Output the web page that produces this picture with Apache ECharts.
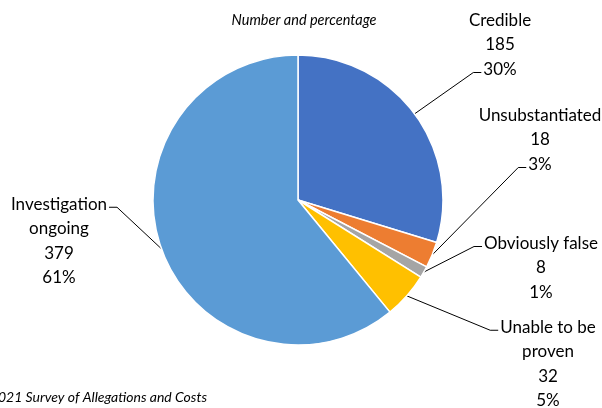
<!DOCTYPE html>
<html><head><meta charset="utf-8">
<script src="https://cdn.jsdelivr.net/npm/echarts@6/dist/echarts.min.js"></script>
<style>html,body{margin:0;padding:0;background:#fff}#c{width:602px;height:408px}</style>
</head><body><div id="c"></div>
<script>
var categories = ['Credible', 'Unsubstantiated', 'Obviously false', 'Unable to be\nproven', 'Investigation\nongoing'];
var values = [185, 18, 8, 32, 379];
var colors = ['#4472C4', '#ED7D31', '#A5A5A5', '#FFC000', '#5B9BD5'];
var titleText = 'Number and percentage';
var sourceText = '2021 Survey of Allegations and Costs';
// label block anchor positions and leader attachment (layout only)
var labelPos = [[500, 45], [540, 140], [541, 268], [548, 364], [59, 241]];
var attachLine = [2, 2, 0, 0, 0];

var FS = 17, LH = 24.5;
var font = 'Lato, "Liberation Sans", sans-serif';
var mctx = document.createElement('canvas').getContext('2d');
mctx.font = FS + 'px ' + font;

function labelLines(i) {
  var pct = Math.round(values[i] / values.reduce(function (a, b) { return a + b; }, 0) * 100);
  return (categories[i] + '\n' + values[i] + '\n' + pct + '%').split('\n');
}

var chart = echarts.init(document.getElementById('c'), null, {renderer: 'canvas'});
chart.setOption({
  animation: false,
  title: {text: titleText, left: 299, top: 8, textAlign: 'center',
    textStyle: {fontFamily: font, fontStyle: 'italic', fontWeight: 'normal', fontSize: 14.5, color: '#000'}},
  graphic: [{type: 'text', x: 207, y: 397, style: {text: sourceText, align: 'right', verticalAlign: 'middle',
    font: 'italic 14px ' + font, fill: '#000'}}],
  series: [{
    type: 'pie',
    center: [298, 200],
    radius: 145,
    startAngle: 90,
    clockwise: true,
    avoidLabelOverlap: false,
    itemStyle: {borderColor: '#fff', borderWidth: 1.5},
    label: {
      show: true, position: 'outside', fontFamily: font, fontSize: FS, lineHeight: LH, color: '#000',
      align: 'center',
      formatter: function (p) { return p.name + '\n' + p.value + '\n' + Math.round(p.percent) + '%'; }
    },
    labelLine: {show: true, length: 10, length2: 8, lineStyle: {color: '#000', width: 1}},
    labelLayout: function (p) {
      var i = p.dataIndex;
      var pos = labelPos[i];
      var res = {x: pos[0], y: pos[1], align: 'center', verticalAlign: 'middle'};
      var pts = p.labelLinePoints;
      if (pts && pts.length) {
        var lines = labelLines(i);
        var top = pos[1] - lines.length * LH / 2;
        var k = attachLine[i];
        var ly = top + (k + 0.5) * LH + 3;
        var w = mctx.measureText(lines[k]).width;
        var right = pts[0][0] < pos[0];
        var ex = right ? pos[0] - w / 2 - 2 : pos[0] + w / 2 + 2;
        var bx = right ? ex - 8 : ex + 8;
        res.labelLinePoints = [pts[0], [bx, ly], [ex, ly]];
      }
      return res;
    },
    data: categories.map(function (c, i) { return {name: c, value: values[i], itemStyle: {color: colors[i]}}; })
  }]
});
</script></body></html>
